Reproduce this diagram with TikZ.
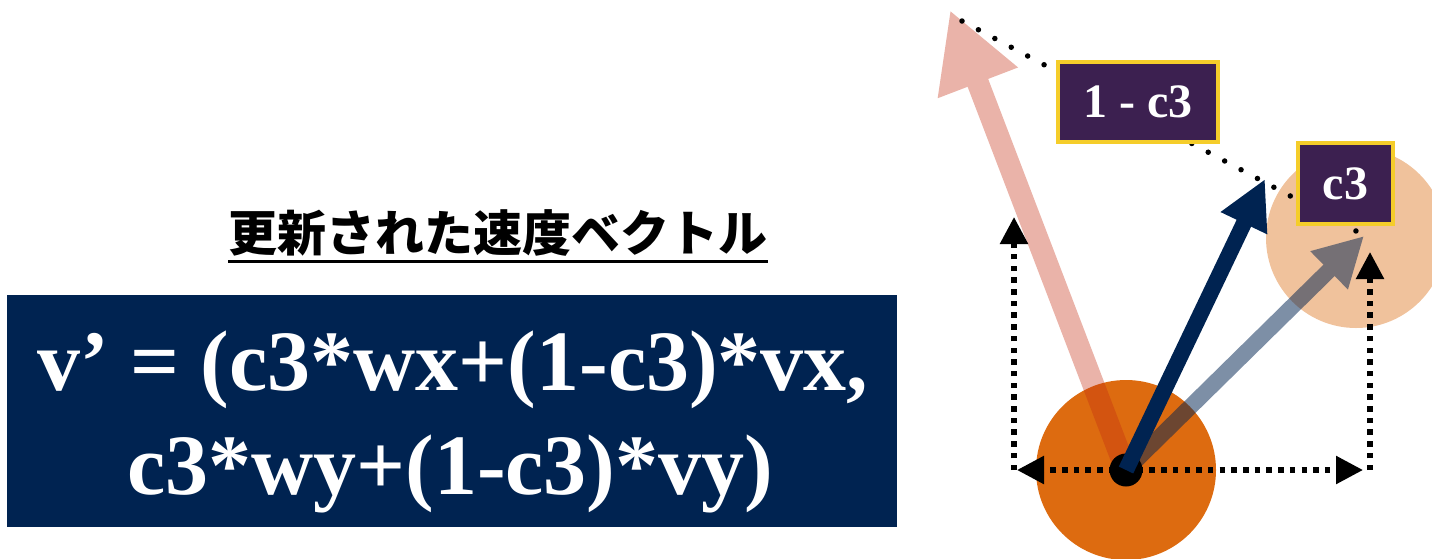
\documentclass[tikz,border=0pt]{standalone}
\usepackage{fontspec}
\setmainfont{Liberation Serif}
\newfontfamily\cjk{Noto Sans CJK JP}
\usetikzlibrary{arrows.meta}
\definecolor{navy}{RGB}{0,35,81}
\definecolor{boxpurple}{RGB}{60,32,80}
\definecolor{boxyellow}{RGB}{245,205,42}
\definecolor{bigorange}{RGB}{221,107,16}
\definecolor{peach}{RGB}{240,194,156}
\definecolor{redorange}{RGB}{196,44,16}
\tikzset{
  labelbox/.style={draw=boxyellow, line width=4pt, fill=boxpurple, text=white,
    font=\fontsize{48}{56}\selectfont\bfseries, inner sep=0pt},
  eqtext/.style={text=white, font=\fontsize{86}{104}\selectfont\bfseries, inner sep=0pt, anchor=base west},
  sqdots/.style={line width=5.5pt, dash pattern=on 5.5pt off 6.2pt, -{Triangle[length=27pt,width=27pt]}},
  rounddots/.style={line width=5.5pt, line cap=round, dash pattern=on 0pt off 18.6pt},
}
\begin{document}
\begin{tikzpicture}[x=1pt,y=-1pt]
\useasboundingbox (0,0) rectangle (1432,558);
% left part
\node[font=\cjk\bfseries\fontsize{49}{56}\selectfont, inner sep=0pt, anchor=base] (title) at (498,251) {更新された速度ベクトル};
\draw[line width=3pt] ([yshift=-10pt]title.base west) -- ([yshift=-10pt]title.base east);
\node[fill=navy, minimum width=890pt, minimum height=232pt, inner sep=0pt, anchor=north west] (eqbox) at (7,295) {};
\node[eqtext] (eq1) at (37,390) {v’ = (c3*wx+(1-c3)*vx,};
\node[eqtext] (eq2) at (127,494) {c3*wy+(1-c3)*vy)};
% right part
\coordinate (o) at (1126,470);
\node[circle, fill=bigorange, minimum size=180pt, inner sep=0pt] (orange) at (o) {};
\node[circle, fill=peach, minimum size=180pt, inner sep=0pt] (peachc) at (1356,238) {};
\coordinate (ptip) at (950,10);
\coordinate (gtip) at (1364,236);
\coordinate (ntip) at (1265,179);
\begin{scope}[transparency group, opacity=0.36]
\draw[redorange, line width=22pt, -{Triangle[length=78pt,width=80pt]}] (o) -- (ptip);
\end{scope}
\begin{scope}[transparency group, opacity=0.51]
\draw[navy, line width=16pt, -{Triangle[length=49pt,width=50pt]}] (o) -- (gtip);
\end{scope}
% dotted guide lines
\coordinate (hl) at (1017,470);
\coordinate (hr) at (1363,470);
\coordinate (vlb) at (1014,470);
\coordinate (vlt) at (1014,217);
\coordinate (vrb) at (1370,470);
\coordinate (vrt) at (1370,252);
\draw[sqdots] (o) -- (hl);
\draw[sqdots] (o) -- (hr);
\draw[sqdots] (vlb) -- (vlt);
\draw[sqdots] (vrb) -- (vrt);
\node[circle, fill=black, minimum size=33pt, inner sep=0pt] (dot) at (o) {};
\draw[navy, line width=16pt, -{Triangle[length=49pt,width=48pt]}] (o) -- (ntip);
% round dotted line
\coordinate (d1) at (962,21);
\coordinate (d2) at (1356,231);
\draw[rounddots] (d1) -- (d2);
\node[labelbox, minimum width=160pt, minimum height=80pt] (lab1) at (1138,102) {1 - c3};
\node[labelbox, minimum width=95pt, minimum height=81pt] (lab2) at (1345.5,183.5) {c3};
\end{tikzpicture}
\end{document}
